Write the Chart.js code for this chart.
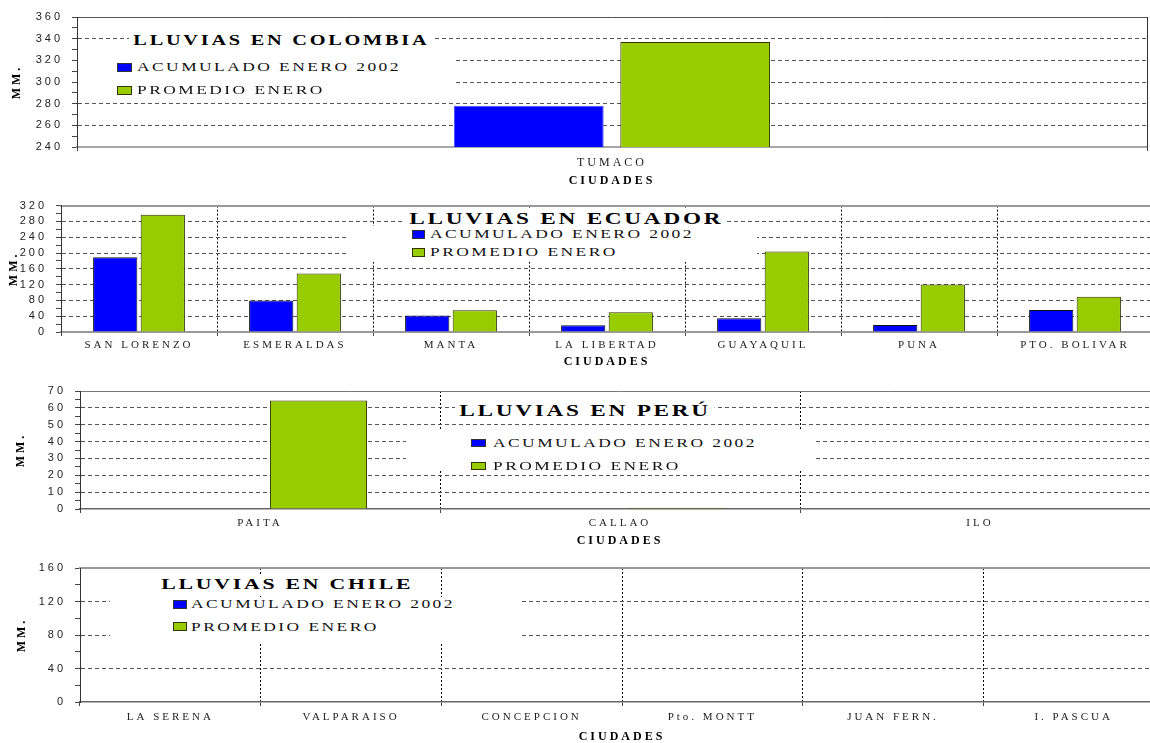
<!DOCTYPE html>
<html>
<head>
<meta charset="utf-8">
<script src="https://cdn.jsdelivr.net/npm/chart.js@4.4.0/dist/chart.umd.min.js"></script>
<style>
  body { margin: 0; width: 1150px; height: 743px; overflow: hidden; background: #fff; position: relative; }
  .wrap { position: absolute; left: 0; }
  .box { position: absolute; background: #fff; }
  .t { position: absolute; line-height: 1; white-space: nowrap; font-family: 'Liberation Serif', 'DejaVu Serif', serif;
       color: #111; transform: scaleX(1.45); transform-origin: 0 50%; letter-spacing: 1.7px; font-size: 12px; }
  .h { font-weight: bold; letter-spacing: 1.9px; background: #fff; padding: 2px 3px; color: #000; }
  .sw { position: absolute; box-sizing: border-box; }
  .blue { background: #0000ff; border: 1px solid #333; }
  .green { background: #99cc00; border: 1px solid #333300; }
</style>
</head>
<body>

<div class="wrap" style="top:0"><canvas id="colombia" width="1150" height="190"></canvas></div>
<div class="wrap" style="top:190px"><canvas id="ecuador" width="1155" height="180"></canvas></div>
<div class="wrap" style="top:370px"><canvas id="peru" width="1160" height="180"></canvas></div>
<div class="wrap" style="top:550px"><canvas id="chile" width="1164" height="193"></canvas></div>

<!-- Colombia -->
<div class="box" style="left:78px;top:52px;width:377px;height:44px"></div>
<div class="t h" style="left:129px;top:32px;font-size:14px">LLUVIAS EN COLOMBIA</div>
<div class="sw blue" style="left:117px;top:63px;width:15px;height:9px"></div>
<div class="t" style="left:137px;top:61px">ACUMULADO ENERO 2002</div>
<div class="sw green" style="left:117px;top:86px;width:15px;height:9px"></div>
<div class="t" style="left:137px;top:84px">PROMEDIO ENERO</div>

<!-- Ecuador -->
<div class="box" style="left:347px;top:226px;width:410px;height:36px"></div>
<div class="t h" style="left:405px;top:209px;font-size:16px">LLUVIAS EN ECUADOR</div>
<div class="sw blue" style="left:412px;top:230px;width:13px;height:9px"></div>
<div class="t" style="left:430px;top:228px">ACUMULADO ENERO 2002</div>
<div class="sw green" style="left:412px;top:248px;width:13px;height:9px"></div>
<div class="t" style="left:430px;top:246px">PROMEDIO ENERO</div>

<!-- Peru -->
<div class="box" style="left:406px;top:431px;width:409px;height:39px"></div>
<div class="t h" style="left:455px;top:401px;font-size:16px">LLUVIAS EN PERÚ</div>
<div class="sw blue" style="left:471px;top:439px;width:15px;height:8px"></div>
<div class="t" style="left:493px;top:437px">ACUMULADO ENERO 2002</div>
<div class="sw green" style="left:471px;top:462px;width:15px;height:8px"></div>
<div class="t" style="left:493px;top:460px">PROMEDIO ENERO</div>

<!-- Chile -->
<div class="box" style="left:110px;top:597px;width:410px;height:45px"></div>
<div class="t h" style="left:157px;top:575px;font-size:15px">LLUVIAS EN CHILE</div>
<div class="sw blue" style="left:173px;top:600px;width:14px;height:9px"></div>
<div class="t" style="left:191px;top:598px">ACUMULADO ENERO 2002</div>
<div class="sw green" style="left:173px;top:622px;width:14px;height:9px"></div>
<div class="t" style="left:191px;top:621px">PROMEDIO ENERO</div>

<script>
// datos (mm)
const colLabels = ['TUMACO'];
const colAcum = [278];
const colProm = [337];

const ecuLabels = ['SAN LORENZO', 'ESMERALDAS', 'MANTA', 'LA LIBERTAD', 'GUAYAQUIL', 'PUNA', 'PTO. BOLIVAR'];
const ecuAcum = [189, 80, 42, 17, 35, 18, 56];
const ecuProm = [297, 148, 55, 50, 204, 120, 89];

const perLabels = ['PAITA', 'CALLAO', 'ILO'];
const perAcum = [0, 0, 0];
const perProm = [64.3, 0.7, 0];

const chiLabels = ['LA SERENA', 'VALPARAISO', 'CONCEPCION', 'Pto. MONTT', 'JUAN FERN.', 'I. PASCUA'];
const chiAcum = [0, 0, 0, 0, 0, 0];
const chiProm = [0, 0, 0, 0, 0, 0];

// eje Y: [min, max, paso menor, paso mayor]
const colY = [240, 360, 10, 20];
const ecuY = [0, 320, 20, 40];
const perY = [0, 70, 5, 10];
const chiY = [0, 160, 20, 40];

const spacing = {
    id: 'spacing',
    beforeDraw(chart) { chart.ctx.letterSpacing = '3px'; }
};

function buildChart(id, labels, acum, prom, yr, o) {
    const [min, max, minor, major] = yr;
    return new Chart(document.getElementById(id), {
        type: 'bar',
        data: {
            labels: labels,
            datasets: [
                { label: 'ACUMULADO ENERO 2002', data: acum, backgroundColor: '#0000ff',
                  borderColor: o.blueEdge, borderWidth: 1,
                  categoryPercentage: o.cat, barPercentage: o.bar },
                { label: 'PROMEDIO ENERO', data: prom, backgroundColor: '#99cc00',
                  borderColor: '#2e3300', borderWidth: 1,
                  categoryPercentage: o.cat, barPercentage: o.bar }
            ]
        },
        options: {
            responsive: false,
            animation: false,
            layout: { padding: { top: o.top, right: o.right, left: 0, bottom: 0 } },
            plugins: { legend: { display: false }, tooltip: { enabled: false } },
            scales: {
                x: {
                    grid: {
                        drawOnChartArea: o.vgrid,
                        color: c => (c.index === undefined || c.index === 0) ? 'transparent' : '#000',
                        tickColor: '#444', tickLength: 4
                    },
                    border: { color: o.axisColor, width: o.axisWidth, dash: [2, 2] },
                    ticks: { color: '#222', padding: o.tickPad, autoSkip: false, maxRotation: 0,
                             font: { family: 'Liberation Serif', size: o.xFont } },
                    title: { display: true, text: 'CIUDADES', color: '#000',
                             font: { family: 'Liberation Serif', size: 12, weight: 'bold', lineHeight: 1 },
                             padding: { top: 0, bottom: o.titlePad } },
                    afterFit: s => { s.height = o.xh; }
                },
                xTop: {
                    type: 'category', position: 'top',
                    grid: { drawOnChartArea: false, drawTicks: false },
                    ticks: { display: false },
                    border: { color: o.topColor, width: o.topWidth },
                    afterFit: s => { s.height = 0; }
                },
                y: {
                    min: min, max: max,
                    grid: {
                        color: c => (c.tick.value % major === 0 && c.tick.value !== min && c.tick.value !== max) ? '#555' : 'transparent',
                        tickColor: '#444', tickLength: 5
                    },
                    border: { color: '#333', width: 1, dash: [4, 3] },
                    ticks: {
                        stepSize: minor, padding: 9, color: '#222', autoSkip: false,
                        font: { family: 'Liberation Sans', size: 11 },
                        callback: v => v % major === 0 ? v : ''
                    },
                    title: { display: true, text: 'MM.', color: '#000',
                             font: { family: 'Liberation Serif', size: 12, weight: 'bold', lineHeight: 1 },
                             padding: { top: o.mmPad, bottom: 0 } },
                    afterFit: s => { s.width = o.left; }
                },
                ...(o.rightBorder ? {
                    yRight: {
                        type: 'linear', position: 'right',
                        grid: { drawOnChartArea: false, drawTicks: false },
                        ticks: { display: false },
                        border: { color: '#333', width: 1 },
                        afterFit: s => { s.width = 0; }
                    }
                } : {})
            }
        },
        plugins: [spacing]
    });
}

buildChart('colombia', colLabels, colAcum, colProm, colY, {
    top: 17, right: 3, left: 77, xh: 43, tickPad: 5, titlePad: 3, xFont: 12, mmPad: 11,
    cat: 0.311, bar: 0.9, blueEdge: '#4d4dff', vgrid: false,
    axisColor: '#a6a6a6', axisWidth: 2, topColor: '#555', topWidth: 1, rightBorder: true
});
buildChart('ecuador', ecuLabels, ecuAcum, ecuProm, ecuY, {
    top: 14, right: 2, left: 61, xh: 38, tickPad: 3, titlePad: 2, xFont: 11, mmPad: 8,
    cat: 0.61, bar: 0.93, blueEdge: '#111', vgrid: true,
    axisColor: '#999', axisWidth: 2, topColor: '#999', topWidth: 2
});
buildChart('peru', perLabels, perAcum, perProm, perY, {
    top: 21, right: 0, left: 80, xh: 41, tickPad: 4, titlePad: 3, xFont: 11, mmPad: 15,
    cat: 0.65, bar: 0.83, blueEdge: '#111', vgrid: true,
    axisColor: '#666', axisWidth: 1.5, topColor: '#777', topWidth: 1
});
buildChart('chile', chiLabels, chiAcum, chiProm, chiY, {
    top: 18, right: 0, left: 80, xh: 41, tickPad: 5, titlePad: 0, xFont: 11, mmPad: 16,
    cat: 0.6, bar: 0.9, blueEdge: '#111', vgrid: true,
    axisColor: '#666', axisWidth: 1.5, topColor: '#999', topWidth: 2
});
</script>
</body>
</html>
